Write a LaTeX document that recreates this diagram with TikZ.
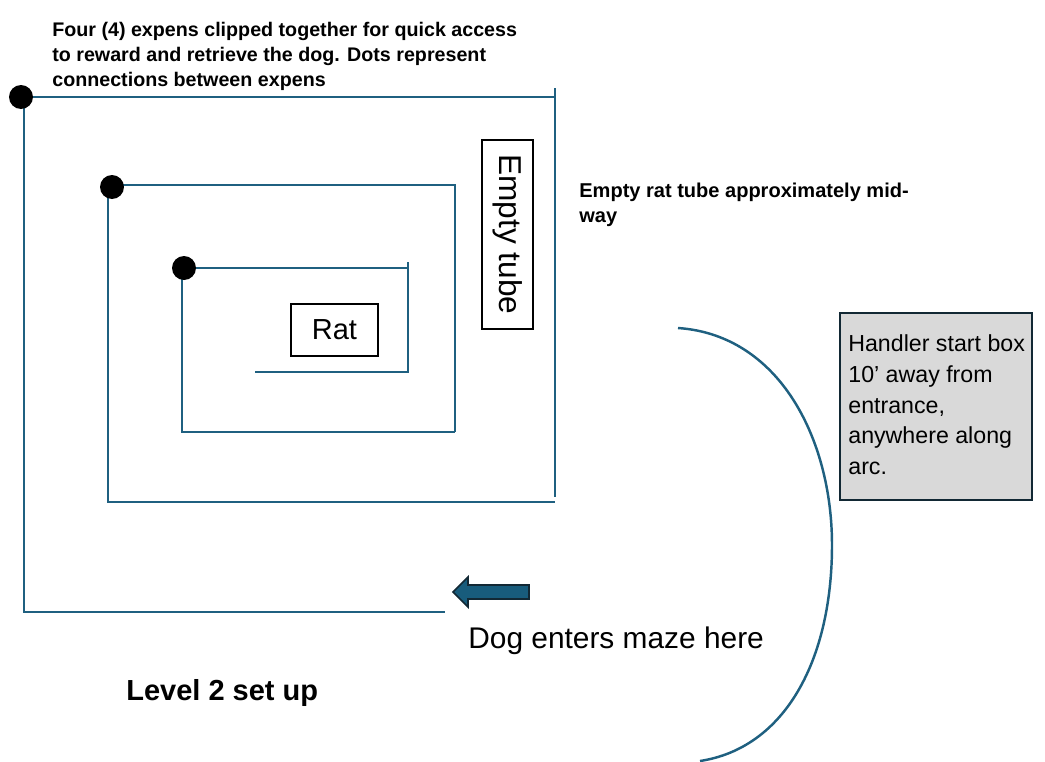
\documentclass[tikz,border=0pt]{standalone}
\usepackage{fontspec}
\setmainfont{Liberation Sans}
\usepackage{tikz}

\definecolor{penblue}{RGB}{31,96,128}
\definecolor{arrowblue}{RGB}{24,92,124}
\definecolor{boxgray}{RGB}{217,217,217}
\definecolor{boxedge}{RGB}{18,40,52}

\tikzset{
  pen/.style={penblue, line width=1.4pt},
  clip dot/.style={circle, fill=black, inner sep=0pt, minimum size=0.48cm},
  label box/.style={draw=black, line width=1pt, inner sep=0pt},
  note/.style={align=left, anchor=north west, inner sep=0pt, font=\bfseries\fontsize{11.2}{14.2}\selectfont}
}

\begin{document}
\begin{tikzpicture}[x=0.02cm, y=-0.02cm]
\useasboundingbox (0,0) rectangle (1045,761);
%%%%%%%%%%%%%%%%%%%%%%%%%%%%%%%
% expens
%%%%%%%%%%%%%%%%%%%%%%%%%%%%%%%
\draw [pen] (21,97) -- (555,97) ;
\draw [pen] (555,88) -- (555,497) ;
\draw [pen] (24,97) -- (24,612) -- (445,612) ;
%
\draw [pen] (112,185) -- (455,185) -- (455,432) ;
\draw [pen] (108,187) -- (108,502) -- (555,502) ;
%
\draw [pen] (184,268) -- (408,268) ;
\draw [pen] (408,262) -- (408,372) -- (255,372) ;
\draw [pen] (182,268) -- (182,432) -- (455,432) ;
%
\node [clip dot] (dotA) at (21,97) {};
\node [clip dot] (dotB) at (112,187) {};
\node [clip dot] (dotC) at (184,268) {};
%%%%%%%%%%%%%%%%%%%%%%%%%%%%%%%
% boxes
%%%%%%%%%%%%%%%%%%%%%%%%%%%%%%%
\node [label box, minimum width=1.74cm, minimum height=1.04cm, font=\fontsize{16.5}{19}\selectfont] (rat) at (334.5,330) {Rat};
\node [label box, rotate=-90, minimum width=3.78cm, minimum height=1.02cm, font=\fontsize{18}{21}\selectfont] (tube) at (507.5,234.5) {Empty tube};
%
\node [draw=boxedge, line width=1.2pt, fill=boxgray, minimum width=3.84cm, minimum height=3.74cm] (handler) at (936,406.5) {};
\node [align=left, anchor=north west, inner sep=0pt, font=\fontsize{13.2}{17.6}\selectfont] (handlertext) at (848,334) {Handler start box\\10’ away from\\entrance,\\anywhere along\\arc.};
%%%%%%%%%%%%%%%%%%%%%%%%%%%%%%%
% arc and entrance
%%%%%%%%%%%%%%%%%%%%%%%%%%%%%%%
\coordinate (arcstart) at (678,328);
\coordinate (arcmid) at (832,545);
\coordinate (arcend) at (700,761);
\draw [pen] (arcstart) .. controls (780,335) and (832,440) .. (arcmid) .. controls (832,660) and (785,748) .. (arcend) ;
%
\draw [boxedge, line width=0.9pt, fill=arrowblue] (529,585) -- (468,585) -- (468,577) -- (453,592) -- (468,607) -- (468,599) -- (529,599) -- cycle ;
%%%%%%%%%%%%%%%%%%%%%%%%%%%%%%%
% texts
%%%%%%%%%%%%%%%%%%%%%%%%%%%%%%%
\node [note] (expens) at (52,22) {Four (4) expens clipped together for quick access\\to reward and retrieve the dog. Dots represent\\connections between expens};
\node [note, font=\bfseries\fontsize{11.4}{13.8}\selectfont] (midway) at (579,183) {Empty rat tube approximately mid-\\way};
\node [anchor=west, inner sep=0pt, font=\fontsize{17}{20}\selectfont] (enter) at (468,641) {Dog enters maze here};
\node [anchor=west, inner sep=0pt, font=\bfseries\fontsize{16.5}{19}\selectfont] (level) at (126,693) {Level 2 set up};
    \end{tikzpicture}
\end{document}
